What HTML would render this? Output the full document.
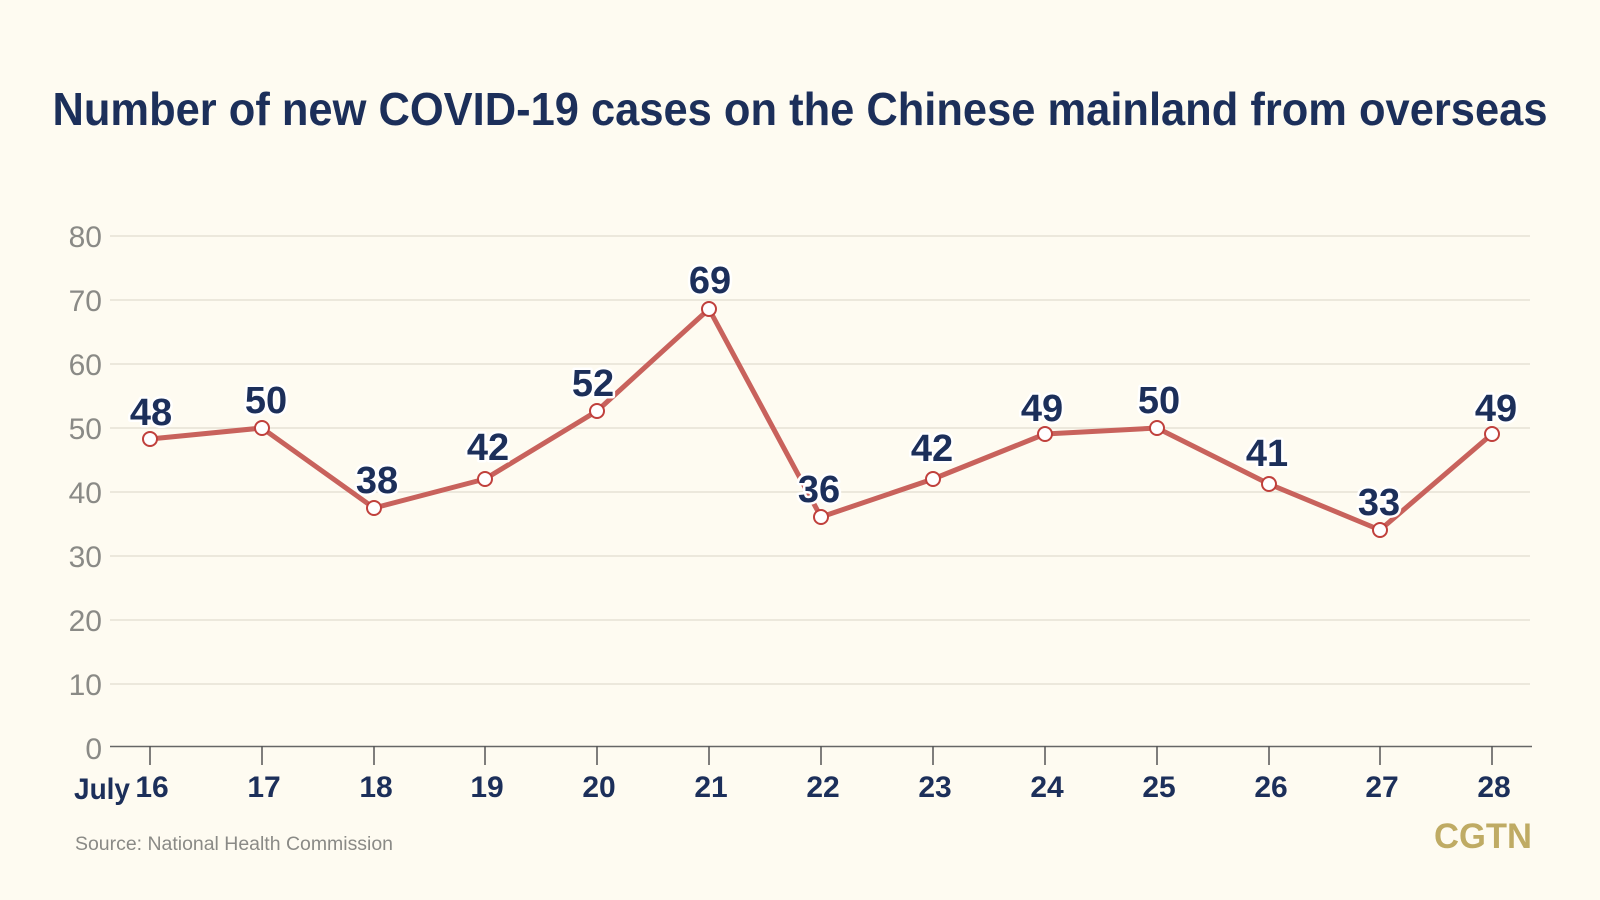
<!DOCTYPE html>
<html><head><meta charset="utf-8"><style>
html,body{margin:0;padding:0;background:#fefbf1;}
svg{display:block;font-family:"Liberation Sans",sans-serif;}
</style></head><body>
<svg width="1600" height="900" viewBox="0 0 1600 900">
<rect width="1600" height="900" fill="#fefbf1"/>
<text x="800" y="125" text-anchor="middle" font-size="46" font-weight="bold" fill="#1c2f5a" textLength="1495" lengthAdjust="spacingAndGlyphs">Number of new COVID-19 cases on the Chinese mainland from overseas</text>
<g stroke="#e6e2d6" stroke-width="1.5">
<line x1="110" x2="1530" y1="236" y2="236"/><line x1="110" x2="1530" y1="300" y2="300"/>
<line x1="110" x2="1530" y1="364" y2="364"/><line x1="110" x2="1530" y1="428" y2="428"/>
<line x1="110" x2="1530" y1="492" y2="492"/><line x1="110" x2="1530" y1="556" y2="556"/>
<line x1="110" x2="1530" y1="620" y2="620"/><line x1="110" x2="1530" y1="684" y2="684"/>
</g>
<g font-size="30" fill="#8a8a86" text-anchor="end">
<text x="102" y="247">80</text><text x="102" y="311">70</text><text x="102" y="375">60</text>
<text x="102" y="439">50</text><text x="102" y="503">40</text><text x="102" y="567">30</text>
<text x="102" y="631">20</text><text x="102" y="695">10</text><text x="102" y="759">0</text>
</g>
<line x1="110" x2="1532" y1="746.5" y2="746.5" stroke="#666" stroke-width="1.5"/>
<g stroke="#555" stroke-width="1.5">
<line x1="150" x2="150" y1="746" y2="765"/><line x1="262" x2="262" y1="746" y2="765"/>
<line x1="374" x2="374" y1="746" y2="765"/><line x1="485" x2="485" y1="746" y2="765"/>
<line x1="597" x2="597" y1="746" y2="765"/><line x1="709" x2="709" y1="746" y2="765"/>
<line x1="821" x2="821" y1="746" y2="765"/><line x1="933" x2="933" y1="746" y2="765"/>
<line x1="1045" x2="1045" y1="746" y2="765"/><line x1="1157" x2="1157" y1="746" y2="765"/>
<line x1="1269" x2="1269" y1="746" y2="765"/><line x1="1380" x2="1380" y1="746" y2="765"/>
<line x1="1492" x2="1492" y1="746" y2="765"/>
</g>
<g font-size="30" font-weight="bold" fill="#1c2f5a" text-anchor="middle">
<text x="102" y="799" textLength="56" lengthAdjust="spacingAndGlyphs">July</text>
<text x="152" y="797">16</text><text x="264" y="797">17</text><text x="376" y="797">18</text>
<text x="487" y="797">19</text><text x="599" y="797">20</text><text x="711" y="797">21</text>
<text x="823" y="797">22</text><text x="935" y="797">23</text><text x="1047" y="797">24</text>
<text x="1159" y="797">25</text><text x="1271" y="797">26</text><text x="1382" y="797">27</text>
<text x="1494" y="797">28</text>
</g>
<polyline fill="none" stroke="#c8625c" stroke-width="5" stroke-linejoin="round" points="150,439 262,428 374,508 485,479 597,411 709,309 821,517 933,479 1045,434 1157,428 1269,484 1380,530 1492,434"/>
<g fill="#fff" stroke="#c0403c" stroke-width="2">
<circle cx="150" cy="439" r="7"/><circle cx="262" cy="428" r="7"/><circle cx="374" cy="508" r="7"/>
<circle cx="485" cy="479" r="7"/><circle cx="597" cy="411" r="7"/><circle cx="709" cy="309" r="7"/>
<circle cx="821" cy="517" r="7"/><circle cx="933" cy="479" r="7"/><circle cx="1045" cy="434" r="7"/>
<circle cx="1157" cy="428" r="7"/><circle cx="1269" cy="484" r="7"/><circle cx="1380" cy="530" r="7"/>
<circle cx="1492" cy="434" r="7"/>
</g>
<g font-size="38" font-weight="bold" fill="#1c2f5a" text-anchor="middle" stroke="#fff" stroke-width="5" paint-order="stroke" stroke-linejoin="round">
<text x="151" y="425">48</text><text x="266" y="413">50</text><text x="377" y="493">38</text>
<text x="488" y="460">42</text><text x="593" y="396">52</text><text x="710" y="293">69</text>
<text x="819" y="502">36</text><text x="932" y="461">42</text><text x="1042" y="421">49</text>
<text x="1159" y="413">50</text><text x="1267" y="466">41</text><text x="1379" y="515">33</text>
<text x="1496" y="421">49</text>
</g>
<text x="75" y="850" font-size="19" fill="#8a8a86" textLength="318" lengthAdjust="spacingAndGlyphs">Source: National Health Commission</text>
<text x="1532" y="848" font-size="35" font-weight="bold" fill="#bfab64" text-anchor="end" textLength="98" lengthAdjust="spacingAndGlyphs">CGTN</text>
</svg>
</body></html>
